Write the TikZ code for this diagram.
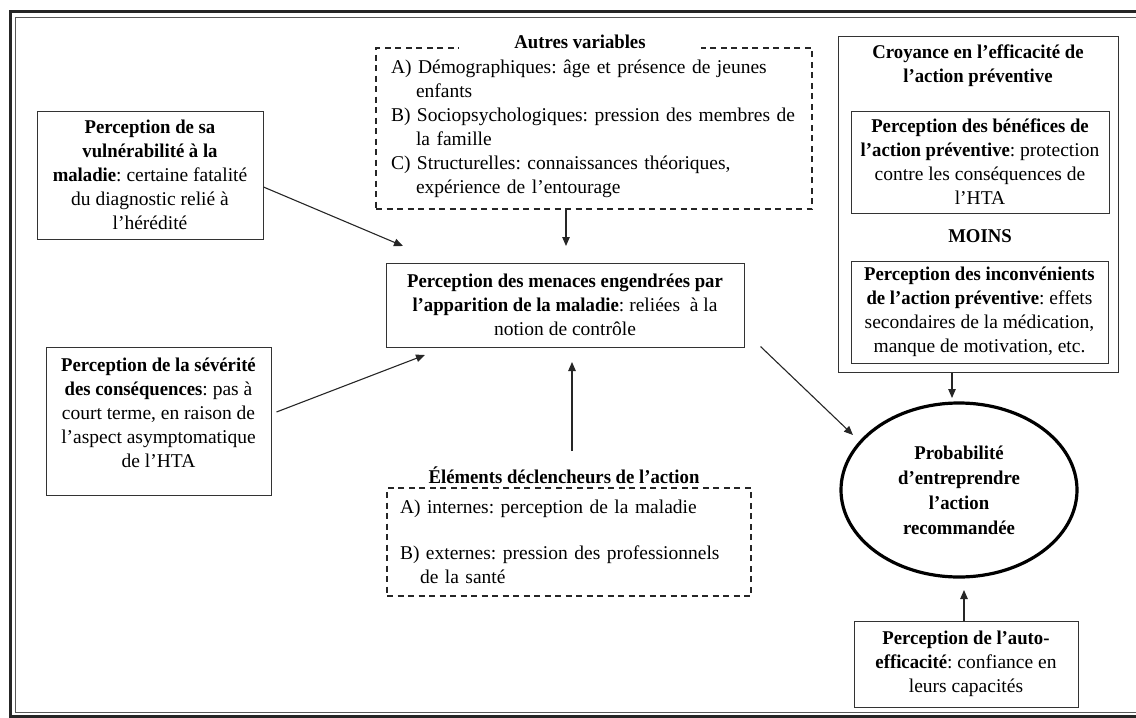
\documentclass[tikz,border=0pt]{standalone}
\usepackage{fontspec}
\setmainfont{Liberation Serif}[BoldFeatures={FakeStretch=0.96}]
\usetikzlibrary{arrows.meta,shapes.geometric,calc}
\frenchspacing
\begin{document}
\begin{tikzpicture}[x=1pt,y=-1pt,
  every node/.style={font=\fontsize{19.5}{24}\selectfont\frenchspacing, text=black},
  box/.style={draw=black!80, line width=1pt, inner sep=0pt, align=center},
  dbox/.style={draw=black!85, line width=1.4pt, dash pattern=on 6pt off 4.5pt, inner sep=0pt},
  arr/.style={draw=black!85, line width=1.1pt, -{Triangle[length=9pt,width=7.5pt]}},
  ttl/.style={font=\fontsize{19.5}{24}\selectfont\bfseries, fill=white, inner xsep=0pt, inner ysep=2pt},
  bold/.style={font=\fontsize{19.5}{24}\selectfont\bfseries, align=center, inner sep=0pt},
]
\useasboundingbox (0,0) rectangle (1136,718);
% frame
\draw[line width=3pt, black!85] (1140,11) -| (10,716.5) -- (1140,716.5);
\draw[line width=1.2pt, black!65] (1140,17.5) -| (15.5,712.5) -- (1140,712.5);

% left boxes
\node[box, minimum width=226pt, minimum height=128pt] (vul) at (150,175)
  {\textbf{Perception de sa}\\\textbf{vulnérabilité à la}\\\textbf{maladie}: certaine fatalité\\du diagnostic relié à\\l'hérédité};
\node[box, minimum width=225pt, minimum height=148pt] (sev) at (158.5,421)
  {\textbf{Perception de la sévérité}\\\textbf{des conséquences}: pas à\\court terme, en raison de\\l'aspect asymptomatique\\de l'HTA\\[-8pt]\mbox{}};

% centre
\node[box, minimum width=358pt, minimum height=84pt] (centre) at (565,305)
  {\textbf{Perception des menaces engendrées par}\\\textbf{l'apparition de la maladie}: reliées\ \ à la\\notion de contrôle};

% autres variables
\node[dbox, minimum width=436pt, minimum height=161pt, text width=406pt, inner xsep=15pt, align=left] (autres) at (594,128.5)
  {A)~Démographiques: âge et présence de jeunes\\\hspace*{25pt}enfants\\B)~Sociopsychologiques: pression des membres de\\\hspace*{25pt}la famille\\C)~Structurelles: connaissances théoriques,\\\hspace*{25pt}expérience de l'entourage};
\node[ttl, anchor=base, minimum width=242pt] (autrest) at (580,48) {Autres variables};

% elements declencheurs
\node[dbox, minimum width=364pt, minimum height=108pt, text width=338pt, inner xsep=13pt, align=left] (elem) at (569,542)
  {A)~internes: perception de la maladie\\[22pt]B)~externes: pression des professionnels\\\hspace*{20pt}de la santé};
\node[ttl, anchor=base, minimum width=332pt] (elemt) at (564,483) {Éléments déclencheurs de l'action};

% right column
\node[box, minimum width=280pt, minimum height=336pt] (croy) at (978,204) {};
\node[bold] (croyt) at (978,66) {Croyance en l'efficacité de\\l'action préventive};
\node[box, minimum width=258pt, minimum height=102pt] (benef) at (980,162)
  {\textbf{Perception des bénéfices de}\\\textbf{l'action préventive}: protection\\contre les conséquences de\\l'HTA};
\node[bold] (moins) at (980,236) {MOINS};
\node[box, minimum width=257pt, minimum height=102pt] (incon) at (979.5,312)
  {\textbf{Perception des inconvénients}\\\textbf{de l'action préventive}: effets\\secondaires de la médication,\\manque de motivation, etc.};

% ellipse
\node[ellipse, draw=black, line width=3.2pt, minimum width=236pt, minimum height=174pt, inner sep=0pt, align=center, font=\fontsize{19.5}{25}\selectfont\bfseries] (ell) at (959,490)
  {Probabilité\\d'entreprendre\\l'action\\recommandée};

\node[box, minimum width=224pt, minimum height=86pt] (auto) at (966,664)
  {\textbf{Perception de l'auto-}\\\textbf{efficacité}: confiance en\\leurs capacités};

% connectors
\coordinate (t1) at (403,246);
\draw[arr] ($(vul.east)+(0,12)$) -- (t1);
\coordinate (t2) at (425,355);
\draw[arr] ($(sev.east)+(5,-9)$) -- (t2);
\coordinate (t3) at (566,246);
\draw[arr] (autres.south -| t3) -- (t3);
\coordinate (t4) at (572,362);
\draw[arr] ($(elemt.north -| t4)+(0,-13)$) -- (t4);
\coordinate (t5) at (853,435);
\draw[arr] ($(centre.south east)+(16,-1)$) -- (t5);
\coordinate (t6) at (952,398);
\draw[arr] (croy.south -| t6) -- (t6);
\coordinate (t7) at (964,590);
\draw[arr] (auto.north -| t7) -- (t7);
\end{tikzpicture}
\end{document}
